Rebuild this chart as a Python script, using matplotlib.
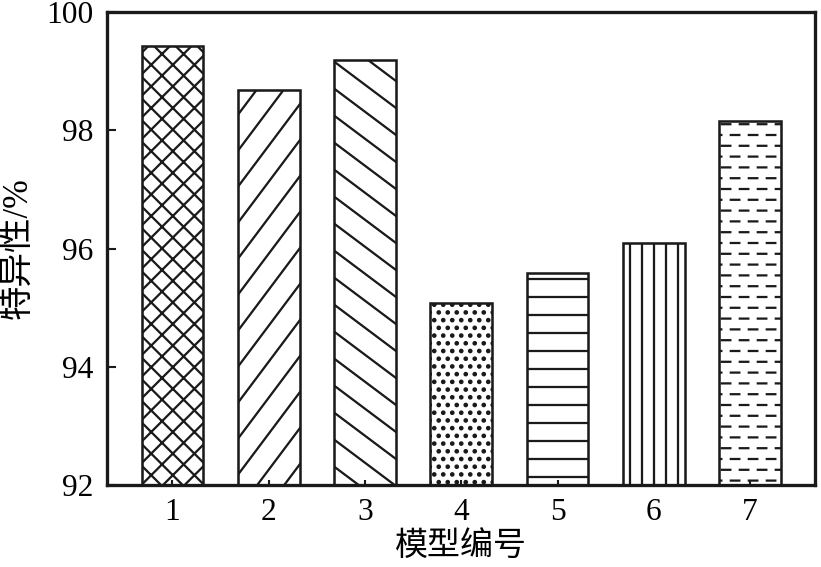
import numpy as np
import matplotlib
matplotlib.use('Agg')
import matplotlib.pyplot as plt
import matplotlib.hatch as mhatch
from matplotlib.path import Path

# data
models = ['1', '2', '3', '4', '5', '6', '7']
specificity = [99.42, 98.68, 99.18, 95.07, 95.59, 96.10, 98.16]
bar_hatches = ['x', '/', '\\', '.', '-', '|', '*']
y_ticks = [92, 94, 96, 98, 100]

DPI = 108  # hatch tile is one inch = 108 px

plt.rcParams['font.family'] = ['Liberation Serif', 'Noto Sans CJK SC']
plt.rcParams['hatch.linewidth'] = 1.5
plt.rcParams['hatch.color'] = '#1a1a1a'


# --- custom hatch tiles (spacing closer to the original figure) ---
def seg(p0, p1):
    return np.array([p0, p1], float), [Path.MOVETO, Path.LINETO]


def diag(a, b, rising):
    # family a*x -/+ b*y = k, clipped by the tile
    out = []
    xs = np.array([-0.3, 1.3])
    for k in range(-a - b - 3, a + b + 4):
        ys = (a * xs - k) / b if rising else (k - a * xs) / b
        out.append(seg((xs[0], ys[0]), (xs[1], ys[1])))
    return out


def hlines(n):
    return [seg((-0.1, (i + 0.5) / n), (1.1, (i + 0.5) / n)) for i in range(n)]


def vlines(n):
    return [seg(((i + 0.5) / n, -0.1), ((i + 0.5) / n, 1.1)) for i in range(n)]


def dots(rows, cols, r):
    circ = Path.unit_circle()
    out = []
    for i in range(rows):
        y = (i + 0.5) / rows
        for j in range(-1, cols + 1):
            x = (j + 0.25 + 0.5 * (i % 2)) / cols
            out.append((circ.vertices * r + [x, y], list(circ.codes)))
    return out


def dashes(rows, per_row, length):
    out = []
    for i in range(rows):
        y = (i + 0.5) / rows
        for j in range(-1, per_row + 1):
            x = (j + 0.1 + 0.5 * (i % 2)) / per_row
            out.append(seg((x, y), (x + length, y)))
    return out


PATTERNS = {
    'x': lambda: diag(5, 5, True) + diag(5, 5, False),
    '/': lambda: diag(4, 3, True),
    '\\': lambda: diag(3, 4, False),
    '.': lambda: dots(14, 12, 0.011),
    '-': lambda: hlines(6),
    '|': lambda: vlines(9),
    '*': lambda: dashes(10, 6, 0.079),
}


class BarHatch(mhatch.HatchPatternBase):
    def __init__(self, hatch, density):
        parts = []
        for ch in set(hatch):
            if ch in PATTERNS:
                parts.extend(PATTERNS[ch]())
        if parts:
            self.verts = np.concatenate([p[0] for p in parts])
            self.codes = np.concatenate([p[1] for p in parts])
        else:
            self.verts = np.empty((0, 2))
            self.codes = np.empty(0)
        self.num_vertices = len(self.verts)

    def set_vertices_and_codes(self, vertices, codes):
        vertices[:] = self.verts
        codes[:] = self.codes


mhatch._hatch_types = [BarHatch]

# --- plot ---
fig = plt.figure(figsize=(821 / DPI, 567 / DPI), dpi=DPI)
ax = fig.add_axes([107 / 821, 1 - 485 / 567, 708 / 821, 473 / 567])

x = np.arange(1, len(models) + 1)
for xi, val, h in zip(x, specificity, bar_hatches):
    ax.bar(xi, val, width=0.64, color='white', edgecolor='#1a1a1a',
           linewidth=1.7, hatch=h)

ax.set_xlim(0.32, 7.675)
ax.set_ylim(92, 100)
ax.set_xticks(x)
ax.set_xticklabels(models)
ax.set_yticks(y_ticks)

for s in ax.spines.values():
    s.set_linewidth(2.2)
    s.set_color('#1a1a1a')

ax.tick_params(axis='y', direction='in', length=6, width=1.4, pad=9,
               labelsize=21, color='#1a1a1a')
ax.tick_params(axis='x', direction='in', length=3.5, width=1.4, pad=9,
               labelsize=21, color='#1a1a1a')

ax.set_xlabel('模型编号', fontsize=22, labelpad=2)
ax.set_ylabel('特异性/%', fontsize=23, labelpad=8)

fig.savefig('out.png', dpi=DPI)
